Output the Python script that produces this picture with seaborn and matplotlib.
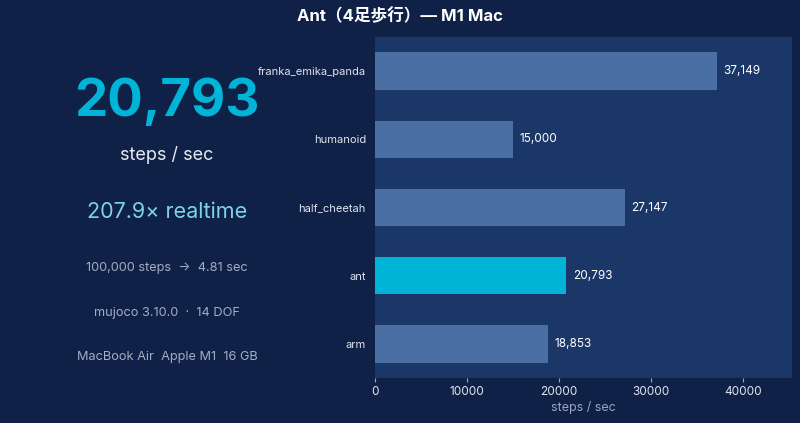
import seaborn as sns
import pandas as pd
import matplotlib
matplotlib.use('Agg')
import matplotlib.pyplot as plt

# データ
models = ['franka_emika_panda', 'humanoid', 'half_cheetah', 'ant', 'arm']
steps_per_sec = [37149, 15000, 27147, 20793, 18853]
highlight = 'ant'

main_value = 20793
realtime_factor = 207.9
info_lines = ['100,000 steps  →  4.81 sec',
              'mujoco 3.10.0  ·  14 DOF',
              'MacBook Air  Apple M1  16 GB']
title = 'Ant（4足歩行）— M1 Mac'

BG = '#0f2147'
AX_BG = '#1b3768'
BAR = '#4a6fa5'
HI = '#00b4d8'

sns.set_theme(style='dark')
plt.rcParams['font.family'] = ['Inter', 'Noto Sans CJK JP', 'DejaVu Sans']

df = pd.DataFrame({'model': models, 'steps': steps_per_sec})
palette = {m: (HI if m == highlight else BAR) for m in models}

fig = plt.figure(figsize=(8, 4.23), dpi=100, facecolor=BG)
ax = fig.add_axes([375 / 800, 1 - 378 / 423, 417 / 800, 341 / 423])
ax.set_facecolor(AX_BG)

sns.barplot(data=df, x='steps', y='model', hue='model', palette=palette,
            order=models, width=0.55, legend=False, ax=ax, saturation=1,
            linewidth=0)

for i, v in enumerate(steps_per_sec):
    ax.text(v + 700, i, f'{v:,}', va='center', ha='left', color='white', fontsize=8.5)

ax.set_xlim(0, max(steps_per_sec) * 1.22)
ax.set_ylabel('')
ax.set_xlabel('steps / sec', color='#9aa5bf', fontsize=9, labelpad=2)
ax.tick_params(axis='x', bottom=True, colors='#dfe4ee', labelsize=8.5, length=3,
               width=0.8, color='#9aa5bf', pad=3)
ax.tick_params(axis='y', colors='#dfe4ee', labelsize=8, length=0, pad=6.5)
ax.grid(False)
for s in ax.spines.values():
    s.set_visible(False)

# 左側のパネル
fig.text(400 / 800, 1 - 16 / 423, title, ha='center', va='center',
         color='white', fontsize=12, fontweight='bold')
cx = 167 / 800
fig.text(cx, 1 - 102 / 423, f'{main_value:,}', ha='center', va='center',
         color=HI, fontsize=38, fontweight='bold')
fig.text(cx, 1 - 155 / 423, 'steps / sec', ha='center', va='center',
         color='#e6eaf2', fontsize=13)
fig.text(cx, 1 - 212 / 423, f'{realtime_factor}× realtime', ha='center', va='center',
         color='#7fd0ea', fontsize=15.5)
for k, line in enumerate(info_lines):
    fig.text(cx, 1 - (268 + 44.5 * k) / 423, line, ha='center', va='center',
             color='#a3adc2', fontsize=9.2)

fig.savefig('out.png', dpi=100, facecolor=BG)
